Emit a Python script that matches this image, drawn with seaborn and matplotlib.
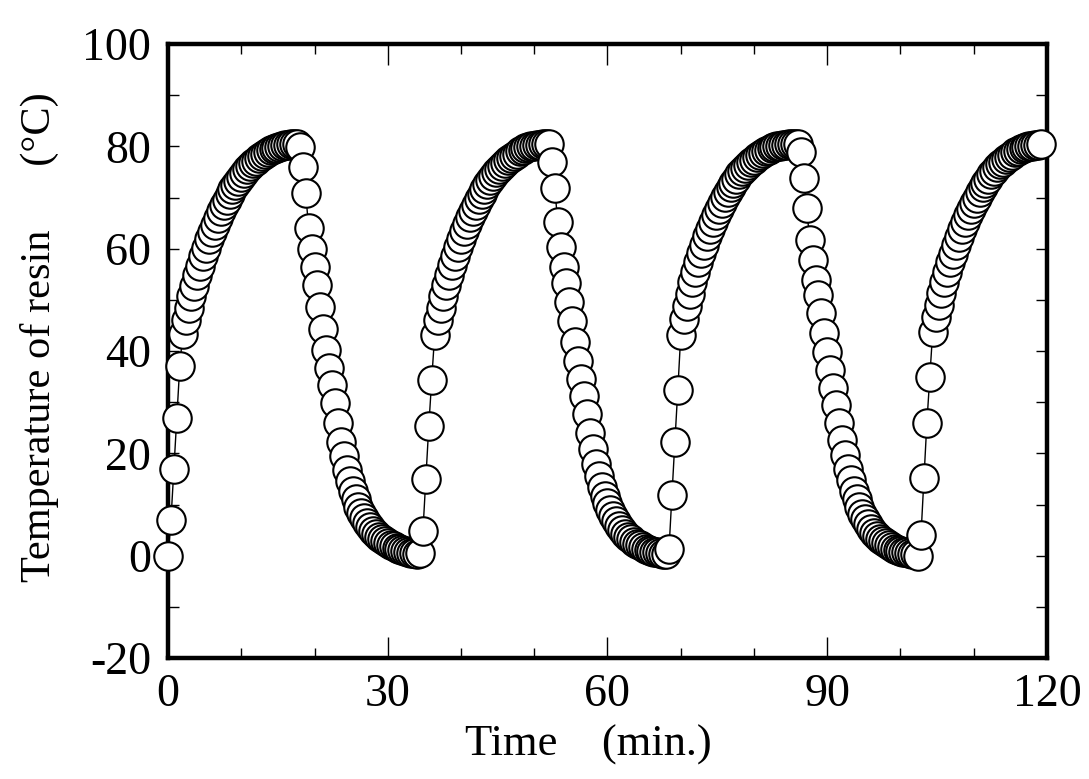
import numpy as np
import pandas as pd
import matplotlib
matplotlib.use("Agg")
import matplotlib.pyplot as plt
from matplotlib.ticker import MultipleLocator
import seaborn as sns

# Resin temperature logged every 0.4 min during four heat / cool cycles
SAMPLE_INTERVAL_MIN = 0.4

cycle1_heat = [0.0, 7.0, 17.0, 27.0, 37.0, 43.3, 46.0, 48.4, 50.7, 52.8, 54.8, 56.7,
               58.5, 60.2, 61.8, 63.3, 64.7, 66.0, 67.3, 68.5, 69.6, 70.6, 71.6, 72.5,
               73.3, 74.1, 74.8, 75.5, 76.1, 76.7, 77.2, 77.7, 78.1, 78.5, 78.9, 79.2,
               79.5, 79.7, 79.9, 80.1, 80.2, 80.3, 80.4, 80.5, 80.5]
cycle1_cool = [79.8, 76.0, 70.8, 64.0, 60.0, 56.5, 52.9, 48.7, 44.4, 40.2, 36.6, 33.4,
               29.8, 25.9, 22.3, 19.4, 16.7, 14.5, 12.6, 11.0, 9.6, 8.4, 7.3, 6.4,
               5.6, 4.9, 4.2, 3.7, 3.2, 2.8, 2.4, 2.1, 1.8, 1.5, 1.3, 1.1,
               0.9, 0.8, 0.6, 0.5, 0.4]
cycle2_heat = [0.5, 4.8, 15.0, 25.3, 34.4, 43.1, 46.0, 48.5, 50.8, 52.9, 54.9, 56.8,
               58.6, 60.3, 61.9, 63.4, 64.8, 66.1, 67.4, 68.6, 69.7, 70.7, 71.7, 72.6,
               73.4, 74.2, 74.9, 75.6, 76.2, 76.8, 77.3, 77.8, 78.2, 78.6, 79.0, 79.3,
               79.6, 79.8, 80.0, 80.1, 80.2, 80.3, 80.4, 80.4, 80.5]
cycle2_cool = [77.0, 71.8, 65.3, 60.4, 56.5, 53.2, 49.6, 45.8, 41.8, 38.0, 34.6, 31.2,
               27.6, 24.0, 20.8, 18.0, 15.6, 13.5, 11.7, 10.2, 8.9, 7.7, 6.7, 5.8,
               5.0, 4.3, 3.7, 3.2, 2.7, 2.3, 2.0, 1.7, 1.4, 1.2, 1.0, 0.8,
               0.7, 0.5, 0.4, 0.3]
cycle3_heat = [1.4, 11.9, 22.3, 32.4, 43.1, 46.2, 48.8, 51.2, 53.4, 55.4, 57.3, 59.1,
               60.8, 62.4, 63.9, 65.3, 66.6, 67.8, 69.0, 70.1, 71.1, 72.0, 72.9, 73.7,
               74.5, 75.2, 75.8, 76.4, 76.9, 77.4, 77.9, 78.3, 78.7, 79.0, 79.3, 79.6,
               79.8, 80.0, 80.1, 80.2, 80.3, 80.4, 80.4, 80.5, 80.5]
cycle3_cool = [78.8, 73.8, 67.9, 61.7, 57.8, 53.9, 50.9, 47.4, 43.6, 39.8, 36.2, 32.8,
               29.4, 25.9, 22.6, 19.6, 17.0, 14.7, 12.7, 11.0, 9.5, 8.2, 7.1, 6.1,
               5.2, 4.5, 3.9, 3.3, 2.8, 2.4, 2.0, 1.7, 1.4, 1.2, 1.0, 0.8,
               0.7, 0.5, 0.4, 0.3]
cycle4_heat = [0.0, 4.0, 15.1, 25.9, 35.0, 43.8, 46.6, 49.0, 51.3, 53.4, 55.4, 57.3,
               59.0, 60.7, 62.3, 63.8, 65.2, 66.5, 67.7, 68.9, 70.0, 71.0, 72.0, 72.9,
               73.7, 74.5, 75.2, 75.9, 76.5, 77.0, 77.5, 78.0, 78.4, 78.8, 79.1, 79.4,
               79.6, 79.8, 80.0, 80.1, 80.2, 80.3, 80.4]

x_ticks = [0, 30, 60, 90, 120]
y_ticks = [-20, 0, 20, 40, 60, 80, 100]

temperature = np.concatenate([cycle1_heat, cycle1_cool, cycle2_heat, cycle2_cool,
                              cycle3_heat, cycle3_cool, cycle4_heat])
time_min = np.arange(len(temperature)) * SAMPLE_INTERVAL_MIN
df = pd.DataFrame({"time": time_min, "temp": temperature})

sns.set_style("ticks")
plt.rcParams["font.family"] = ["Liberation Serif", "DejaVu Serif"]
plt.rcParams["axes.unicode_minus"] = False
plt.rcParams["text.color"] = "black"
plt.rcParams["axes.labelcolor"] = "black"

fig = plt.figure(figsize=(10.89, 7.79), dpi=100)
ax = fig.add_axes([0.1543, 0.1553, 0.8071, 0.7882])

sns.lineplot(data=df, x="time", y="temp", ax=ax, color="black", linewidth=1.0,
             marker="o", markersize=20.5, markerfacecolor="white",
             markeredgecolor="black", markeredgewidth=1.5, zorder=5,
             clip_on=False)

ax.set_xlim(0, 120)
ax.set_ylim(-20, 100)
ax.set_xticks(x_ticks)
ax.set_yticks(y_ticks)
ax.xaxis.set_minor_locator(MultipleLocator(10))
ax.yaxis.set_minor_locator(MultipleLocator(10))

for side in ax.spines.values():
    side.set_linewidth(3.2)
    side.set_color("black")

ax.tick_params(axis="x", which="major", direction="in", length=15, width=1.0,
               top=True, bottom=True, labelsize=33, pad=11, colors="black")
ax.tick_params(axis="x", which="minor", direction="in", length=7.5, width=1.0,
               top=True, bottom=True, colors="black")
ax.tick_params(axis="y", which="both", direction="in", length=8, width=1.0,
               left=True, right=True, colors="black")
ax.tick_params(axis="y", which="major", labelsize=33, pad=12)

ax.set_xlabel("Time    (min.)", fontsize=32, color="black")
ax.set_ylabel("Temperature of resin      (°C)", fontsize=30.5, color="black")
ax.xaxis.set_label_coords(0.478, -0.108)
ax.yaxis.set_label_coords(-0.124, 0.522)

fig.savefig("out.png", dpi=100, facecolor="white")
